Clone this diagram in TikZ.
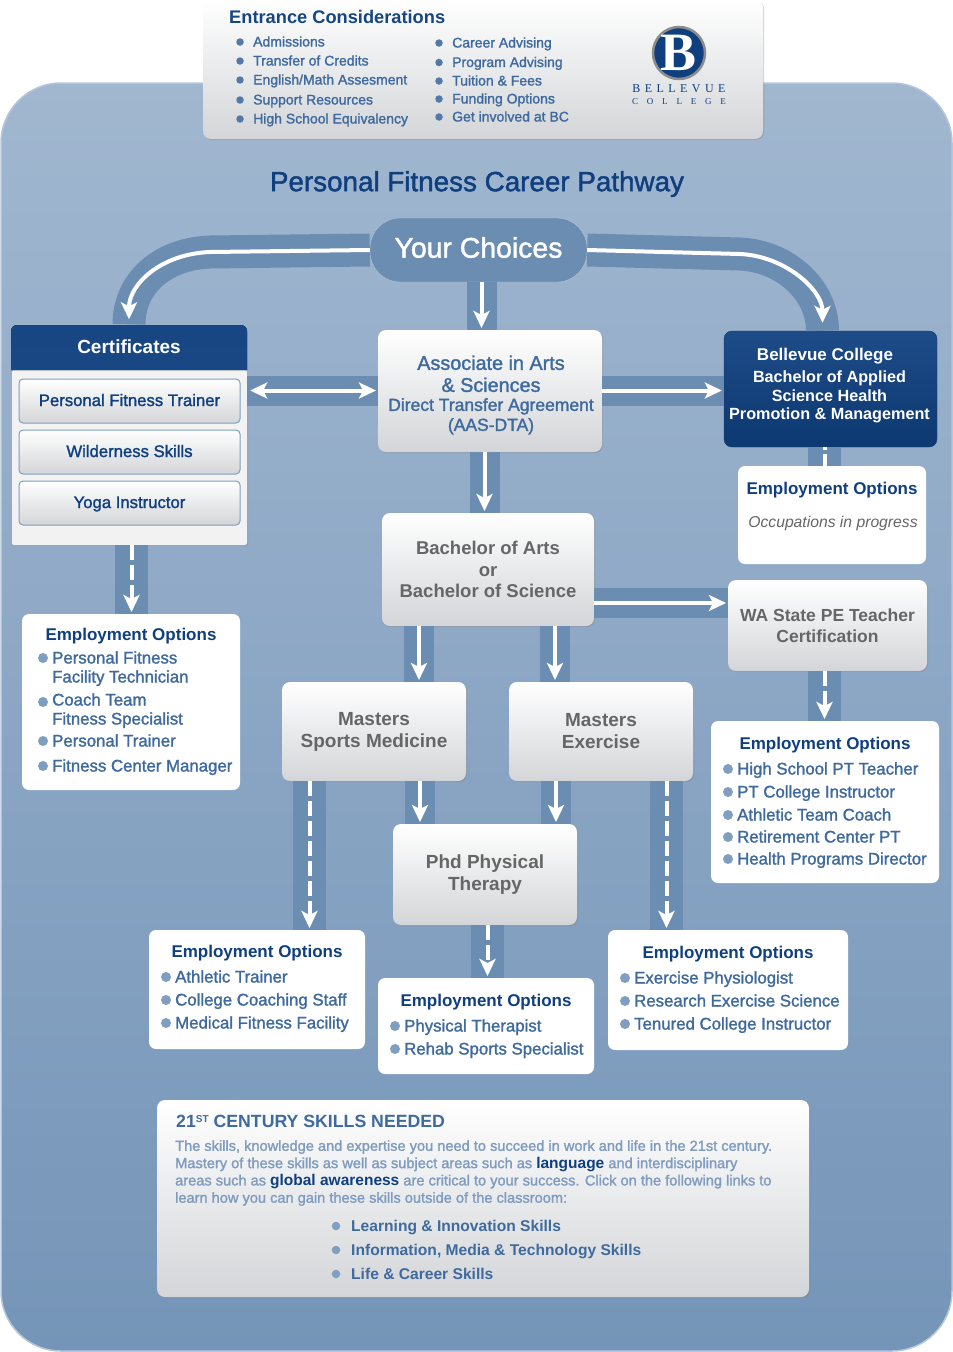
\documentclass[tikz,border=0pt]{standalone}
\usepackage{fontspec}
\setmainfont{Liberation Sans}
\newfontfamily\medfont[FakeBold=1.5]{Liberation Sans}
\newfontfamily\logofont[LetterSpace=37]{Liberation Serif}
\newfontfamily\logosmall[LetterSpace=98]{Liberation Serif}
\newfontfamily\logob{Liberation Serif}
\usepackage{tikz}
\usetikzlibrary{arrows.meta,shadows}

\definecolor{navy}{HTML}{0F3F7E}
\definecolor{steel}{HTML}{3F6A9E}
\definecolor{bandblue}{HTML}{6C8DB2}
\definecolor{dotblue}{HTML}{7F9EC0}
\definecolor{parablue}{HTML}{7F9BBF}
\definecolor{graytext}{HTML}{666666}
\definecolor{bgtop}{HTML}{A1B7D0}
\definecolor{bgbottom}{HTML}{7595B8}
\definecolor{bgedge}{HTML}{B5C6DA}
\definecolor{panelbottom}{HTML}{D3D5D8}

\tikzset{
  boxsize/.style 2 args={minimum width=#1pt,minimum height=#2pt},
  bgpanel/.style={rounded corners=60pt,draw=bgedge,line width=1.5pt,top color=bgtop,bottom color=bgbottom,inner sep=0},
  graybox/.style={rounded corners=8pt,top color=white,bottom color=panelbottom,inner sep=0,outer sep=0,align=center,
    drop shadow={shadow xshift=1pt,shadow yshift=-1pt,opacity=.35}},
  stagebox/.style={graybox,text=graytext,font=\bfseries\fontsize{18.5}{21.5}\selectfont},
  empbox/.style={rounded corners=7pt,fill=white,inner sep=0,outer sep=0},
  emptitle/.style={inner sep=0,yshift=-2pt,text=navy,font=\bfseries\fontsize{17}{20}\selectfont},
  bullet/.style={circle,fill=dotblue,inner sep=0,minimum size=10pt},
  item/.style={anchor=west,inner sep=0,yshift=-2pt,text=steel,text height=10pt,text depth=3pt,font=\medfont\fontsize{16.8}{19}\selectfont},
  band/.style={draw=bandblue,line width=30pt},
  wideband/.style={draw=bandblue,line width=33pt},
  flow/.style={draw=white,line width=4pt,shorten >=2pt,-{Stealth[length=17pt,width=16pt,inset=4pt]}},
  dashflow/.style={flow,dash pattern=on 15pt off 5pt},
  dashstub/.style={draw=white,line width=4pt,dash pattern=on 3pt off 4pt on 15pt off 5pt},
}

\newcommand{\bulletlist}[4]{%
  \foreach \y/\txt [count=\k] in {#4} {
    \node[bullet] (#1b\k) at (#2,\y) {};
    \node[item] (#1t\k) at (#3,\y) {\txt};
  }}

\begin{document}
\begin{tikzpicture}[x=1pt,y=-1pt]
  \useasboundingbox (0,0) rectangle (953,1352);
  \node[bgpanel,boxsize={951}{1268}] (bg) at (476.5,717) {};

  % entrance panel and logo
  \node[graybox,boxsize={560}{139}] (entrance) at (483,69.5) {};
  \node[anchor=west,inner sep=0,text=navy!85!steel,font=\bfseries\fontsize{18.25}{20}\selectfont] (entrancetitle) at (229,17) {Entrance Considerations};
  \begin{scope}[bullet/.append style={minimum size=7.5pt,fill=steel!90},item/.append style={yshift=1pt,font=\medfont\fontsize{14}{16}\selectfont}]
    \bulletlist{enl}{240}{253}{42/Admissions,61/Transfer of Credits,80/English\slash Math Assesment,100/Support Resources,119/High School Equivalency}
    \bulletlist{enr}{439}{452}{43/Career Advising,62.5/Program Advising,81/Tuition \& Fees,99/Funding Options,117/Get involved at BC}
  \end{scope}
  \node[circle,fill=navy,draw=black!45,line width=2.5pt,minimum size=52pt,inner sep=0,text=white,font=\logob\bfseries\fontsize{54}{54}\selectfont] (logo) at (679,53) {B};
  \node[inner sep=0,text=navy,font=\logofont\fontsize{12}{14}\selectfont] (logoname) at (679,89) {BELLEVUE};
  \node[inner sep=0,text=navy,font=\logosmall\fontsize{9}{11}\selectfont] (logocollege) at (679,102) {COLLEGE};

  \node[inner sep=0,text=navy,font=\medfont\fontsize{27.8}{30}\selectfont] (title) at (477,184) {Personal Fitness Career Pathway};

  \node[rounded corners=30pt,boxsize={217}{64},fill=bandblue,draw=bgedge,inner sep=0] (choices) at (478.5,250) {};
  \node[inner sep=0,text=white,font=\medfont\fontsize{28.4}{30}\selectfont] (choicestext) at (478.5,247.5) {Your Choices};

  % certificates
  \node[rounded corners=2pt,boxsize={235}{175},fill=black!5,inner sep=0,drop shadow={shadow xshift=1pt,shadow yshift=-1pt,opacity=.35}] (certbody) at (129.5,457.5) {};
  \fill[top color=navy!85!steel,bottom color=navy!80!steel] (11,370) [rounded corners=6pt] -- (11,325) -- (247,325) [sharp corners] -- (247,370) -- cycle;
  \node[boxsize={236}{45},inner sep=0,text=white,font=\bfseries\fontsize{19}{21}\selectfont] (certhead) at (129,347) {Certificates};
  \foreach \y/\txt [count=\k] in {401/Personal Fitness Trainer,452/Wilderness Skills,503/Yoga Instructor} {
    \node[rounded corners=4pt,boxsize={221}{44},top color=white,bottom color=panelbottom,draw=dotblue,line width=1pt,inner sep=0,text=navy,text height=14pt,text depth=4pt,font=\medfont\fontsize{16.7}{20}\selectfont] (btn\k) at (129.5,\y) {\txt};
  }

  % pathway boxes
  \node[graybox,boxsize={224}{122}] (aa) at (490,391) {};
  \node[inner sep=0,align=center,text=steel,font=\medfont\fontsize{19.8}{22}\selectfont] (aatext) at (491,395) {Associate in Arts\\ \& Sciences\\[-3pt]{\fontsize{17.5}{19}\selectfont Direct Transfer Agreement}\\[-2pt]{\fontsize{17.5}{19}\selectfont (AAS-DTA)}};
  \node[rounded corners=8pt,boxsize={213}{116},top color=navy!70!steel,bottom color=navy!90!black,draw=navy!90!black,inner sep=0] (bc) at (830.5,389) {};
  \node[inner sep=0,text=white,font=\bfseries\fontsize{17}{20}\selectfont] (bctitle) at (825,356.5) {Bellevue College};
  \node[inner sep=0,align=center,text=white,font=\bfseries\fontsize{16.2}{18.8}\selectfont] (bctext) at (829.5,397) {Bachelor of Applied\\Science Health\\Promotion \& Management};
  \node[stagebox,boxsize={212}{113}] (bach) at (488,569.5) {Bachelor of Arts\\or\\Bachelor of Science};
  \node[stagebox,boxsize={199}{91},font=\bfseries\fontsize{17.5}{21}\selectfont] (wa) at (827.5,625.5) {WA State PE Teacher\\Certification};
  \node[stagebox,boxsize={184}{99},font=\bfseries\fontsize{19}{22}\selectfont] (msports) at (374,731.5) {Masters\\Sports Medicine};
  \node[stagebox,boxsize={184}{99},font=\bfseries\fontsize{19}{22}\selectfont] (mex) at (601,731.5) {Masters\\Exercise};
  \node[stagebox,boxsize={184}{101},font=\bfseries\fontsize{19}{22}\selectfont] (phd) at (485,874.5) {Phd Physical\\Therapy};

  % employment boxes
  \foreach \name/\x/\y/\w/\h/\tx/\ty in {empbc/832/515/188/98/832/488,empcert/131/702/218/176/131/634,emphs/825/802/228/162/825/743,empms/257/989.5/216/119/257/951,empphd/486/1026/216/96/486/1000,empex/728/990/240/120/728/952} {
    \node[empbox,boxsize={\w}{\h}] (\name) at (\x,\y) {};
    \node[emptitle] (\name title) at (\tx,\ty) {Employment Options};
  }
  \node[inner sep=0,text=graytext,font=\itshape\fontsize{15.7}{19}\selectfont] (occtext) at (833,523) {Occupations in progress};
  \foreach \y [count=\k] in {658,702,741,766} {
    \node[bullet] (certb\k) at (43,\y) {};
  }
  \foreach \y/\txt [count=\k] in {658/Personal Fitness,677/Facility Technician,700/Coach Team,719/Fitness Specialist,741/Personal Trainer,766/Fitness Center Manager} {
    \node[item] (certt\k) at (52,\y) {\txt};
  }
  \bulletlist{hs}{728}{737}{769/High School PT Teacher,792/PT College Instructor,815/Athletic Team Coach,837/Retirement Center PT,859/Health Programs Director}
  \bulletlist{ms}{166}{175}{977/Athletic Trainer,1000/College Coaching Staff,1023/Medical Fitness Facility}
  \bulletlist{pt}{395}{404}{1026/Physical Therapist,1049/Rehab Sports Specialist}
  \bulletlist{ex}{625}{634}{978/Exercise Physiologist,1001/Research Exercise Science,1024/Tenured College Instructor}

  % skills panel
  \node[graybox,boxsize={652}{197}] (skills) at (483,1198.5) {};
  \node[anchor=west,inner sep=0,text=steel,font=\bfseries\fontsize{17.7}{20}\selectfont] (skillstitle) at (176,1121) {21\raisebox{5pt}{\fontsize{10}{10}\selectfont ST} CENTURY SKILLS NEEDED};
  \node[anchor=west,inner sep=0,align=left,text=parablue,font=\medfont\fontsize{14.6}{17.3}\selectfont] (skillstext) at (175,1173) {The skills, knowledge and expertise you need to succeed in work and life in the 21st century.\\Mastery of these skills as well as subject areas such as \textcolor{navy}{\normalfont\bfseries\fontsize{15.5}{17.3}\selectfont language} and interdisciplinary\\areas such as \textcolor{navy}{\normalfont\bfseries\fontsize{15.5}{17.3}\selectfont global awareness} are critical to your success. Click on the following links to\\learn how you can gain these skills outside of the classroom:};
  \begin{scope}[bullet/.append style={minimum size=8.5pt},item/.append style={font=\bfseries\fontsize{15.6}{18}\selectfont}]
    \bulletlist{sk}{336}{351}{1226/Learning \& Innovation Skills,1250/{Information, Media \& Technology Skills},1274/Life \& Career Skills}
  \end{scope}

  % connectors
  \draw[wideband] (choices.west) -- (210,252) .. controls (160,254) and (129,285) .. (certhead.north);
  \draw[flow,shorten >=5pt] (choices.west) -- (210,252) .. controls (160,254) and (129,285) .. (certhead.north);
  \draw[wideband] (choices.east) -- (740,254) .. controls (785,256) and (822.5,290) .. ([xshift=-8pt]bc.north);
  \draw[flow,shorten >=8pt] (choices.east) -- (740,254) .. controls (785,256) and (822.5,290) .. ([xshift=-8pt]bc.north);
  \foreach \a/\b/\x/\bst/\st in {choices/aa/481.5/band/flow,aa/bach/484.5/band/flow,bach/msports/419/band/flow,bach/mex/555/band/flow,msports/phd/420/band/flow,mex/phd/556/band/flow,bc/empbc/824.5/wideband/dashstub,wa/emphs/824.5/wideband/dashflow,certbody/empcert/131.5/wideband/dashflow,msports/empms/309.5/wideband/dashflow,mex/empex/666.5/wideband/dashflow,phd/empphd/487.5/wideband/dashflow} {
    \draw[\bst] (\a.south -| \x,0) -- (\b.north -| \x,0);
    \draw[\st] (\a.south -| \x,0) -- (\b.north -| \x,0);
  }
  \foreach \a/\b/\y in {aa/bc/390.5,bach/wa/603} {
    \draw[band] (\a.east |- 0,\y) -- (\b.west |- 0,\y);
    \draw[flow] (\a.east |- 0,\y) -- (\b.west |- 0,\y);
  }
  \draw[band] (certbody.east |- 0,390.5) -- (aa.west |- 0,390.5);
  \draw[flow,shorten <=3pt,{Stealth[length=17pt,width=16pt,inset=4pt]}-{Stealth[length=17pt,width=16pt,inset=4pt]}] (certbody.east |- 0,390.5) -- (aa.west |- 0,390.5);
\end{tikzpicture}
\end{document}
